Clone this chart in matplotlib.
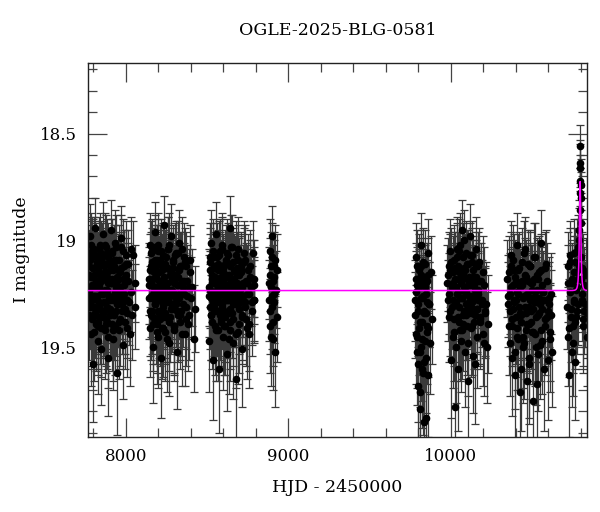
import numpy as np
import matplotlib
matplotlib.use("Agg")
import matplotlib.pyplot as plt
from matplotlib.ticker import MultipleLocator

# ---------------- data ----------------
title = "OGLE-2025-BLG-0581"
xlabel = "HJD - 2450000"
ylabel = "I magnitude"

s1_t = [7773,7777,7781,7784,7788,7791,7795,7798,7802,7806,7809,7813,7817,7820,7824,7828,7831,7835,7839,7843,
        7846,7850,7854,7858,7862,7866,7870,7874,7878,7882,7886,7890,7894,7898,7903,7907,7911,7916,7920,7925,
        7929,7934,7939,7944,7949,7954,7959,7964,7970,7975,7981,7987,7993,7999,8006,8013,8021,8030,8041,8056]
s1_m = [19.12,19.35,18.98,19.27,19.44,19.05,19.21,19.58,19.16,19.31,18.94,19.26,19.39,19.08,19.22,19.47,19.13,19.29,19.02,19.36,
        19.19,19.51,19.10,19.25,18.97,19.33,19.42,19.15,19.24,19.06,19.38,19.20,19.55,19.11,19.28,18.95,19.34,19.18,19.46,19.09,
        19.26,19.40,19.03,19.30,19.62,19.14,19.23,19.37,18.99,19.27,19.49,19.12,19.32,19.07,19.41,19.19,19.29,19.04,19.35,19.20]
s1_e = [0.17,0.21,0.15,0.19,0.24,0.16,0.18,0.27,0.17,0.20,0.14,0.19,0.22,0.16,0.18,0.25,0.17,0.20,0.15,0.22,
        0.18,0.26,0.16,0.19,0.15,0.21,0.23,0.17,0.19,0.16,0.22,0.18,0.27,0.16,0.20,0.14,0.21,0.18,0.24,0.16,
        0.19,0.23,0.15,0.20,0.29,0.17,0.19,0.22,0.15,0.19,0.25,0.17,0.21,0.16,0.23,0.18,0.20,0.15,0.21,0.18]
s1b_t = [7775,7779,7782,7786,7789,7793,7797,7800,7804,7807,7811,7815,7818,7822,7826,7829,7833,7837,7841,7844,
         7848,7852,7856,7860,7864,7868,7872,7876,7880,7884,7888,7892,7896,7900,7905,7909,7913,7918,7922,7927,
         7931,7936,7941,7946,7951,7956,7961,7967,7972,7978,7984,7990,7996,8002,8009,8017,8025,8035,8048,8060]
s1b_m = [19.24,19.09,19.31,19.17,19.02,19.28,19.36,19.13,19.21,19.43,19.07,19.33,19.19,19.26,19.11,19.38,19.22,19.04,19.30,19.16,
         19.41,19.25,19.08,19.34,19.18,19.12,19.29,19.37,19.03,19.23,19.15,19.45,19.27,19.10,19.32,19.20,19.06,19.39,19.14,19.26,
         19.35,19.01,19.22,19.17,19.30,19.09,19.42,19.25,19.13,19.33,19.05,19.21,19.38,19.16,19.28,19.11,19.44,19.24,19.07,19.31]
s1b_e = [0.19,0.16,0.20,0.17,0.15,0.19,0.21,0.17,0.18,0.23,0.16,0.20,0.18,0.19,0.16,0.22,0.18,0.15,0.20,0.17,
         0.23,0.19,0.16,0.21,0.17,0.16,0.19,0.22,0.15,0.18,0.17,0.24,0.19,0.16,0.20,0.18,0.16,0.22,0.17,0.19,
         0.21,0.15,0.18,0.17,0.20,0.16,0.23,0.19,0.17,0.20,0.15,0.18,0.22,0.17,0.19,0.16,0.24,0.19,0.16,0.20]
s1c_t = [7774,7780,7785,7790,7794,7799,7803,7808,7812,7816,7821,7825,7830,7834,7838,7842,7847,7851,7855,7859,
         7863,7867,7871,7875,7879,7883,7887,7891,7895,7901,7906,7910,7915,7919,7924,7928,7933,7938,7943,7948,
         7953,7958,7963,7968,7974,7980,7986,7992,8000,8010]
s1c_m = [19.16,19.30,19.07,19.22,19.37,19.13,19.26,19.04,19.34,19.19,19.28,19.10,19.40,19.21,19.15,19.32,19.06,19.25,19.18,19.36,
         19.11,19.29,19.23,19.02,19.39,19.17,19.31,19.08,19.26,19.14,19.35,19.20,19.05,19.28,19.42,19.12,19.24,19.33,19.09,19.19,
         19.27,19.38,19.15,19.22,19.03,19.30,19.18,19.25,19.11,19.34]
s1c_e = [0.17,0.20,0.16,0.18,0.22,0.16,0.19,0.15,0.21,0.18,0.19,0.16,0.23,0.18,0.17,0.20,0.15,0.19,0.17,0.22,
         0.16,0.19,0.18,0.15,0.23,0.17,0.20,0.16,0.19,0.17,0.21,0.18,0.15,0.19,0.24,0.16,0.18,0.21,0.16,0.18,
         0.19,0.22,0.17,0.18,0.15,0.20,0.17,0.19,0.16,0.21]

s2_t = [8142,8147,8151,8156,8160,8164,8168,8172,8176,8180,8184,8188,8192,8196,8200,8204,8208,8212,8216,8220,
        8224,8228,8233,8237,8241,8245,8250,8254,8258,8263,8267,8272,8276,8281,8286,8290,8295,8300,8305,8310,
        8315,8320,8326,8331,8337,8343,8349,8355,8362,8369,8376,8384,8393,8404,8418]
s2_m = [19.18,19.02,19.41,19.26,19.10,19.33,19.50,19.15,19.22,18.96,19.37,19.12,19.28,19.45,19.05,19.24,19.34,19.09,19.19,19.55,
        19.14,19.30,18.93,19.26,19.43,19.11,19.21,19.36,19.04,19.27,19.48,19.16,19.23,18.98,19.32,19.13,19.40,19.20,19.07,19.29,
        19.52,19.17,19.25,19.01,19.35,19.12,19.44,19.22,19.08,19.31,19.19,19.39,19.15,19.27,19.46]
s2_e = [0.17,0.15,0.23,0.19,0.16,0.20,0.26,0.17,0.18,0.14,0.21,0.16,0.19,0.24,0.15,0.18,0.21,0.16,0.17,0.28,
        0.17,0.20,0.14,0.19,0.23,0.16,0.18,0.21,0.15,0.19,0.25,0.17,0.18,0.15,0.20,0.16,0.22,0.18,0.15,0.19,
        0.27,0.17,0.19,0.15,0.21,0.16,0.24,0.18,0.16,0.20,0.17,0.22,0.17,0.19,0.25]
s2b_t = [8144,8149,8153,8158,8162,8166,8170,8174,8178,8182,8186,8190,8194,8198,8202,8206,8210,8214,8218,8222,
         8226,8230,8235,8239,8243,8247,8252,8256,8260,8265,8269,8274,8278,8283,8288,8292,8297,8302,8307,8312,
         8317,8323,8328,8334,8340,8346,8352,8358,8365,8372,8380,8388,8398,8410,8425]
s2b_m = [19.27,19.14,19.06,19.35,19.21,19.12,19.39,19.24,19.03,19.30,19.17,19.43,19.09,19.26,19.33,19.15,19.22,19.37,19.05,19.28,
         19.19,19.41,19.11,19.25,19.34,19.08,19.20,19.46,19.13,19.29,19.02,19.36,19.23,19.16,19.31,19.10,19.40,19.18,19.27,19.06,
         19.33,19.21,19.14,19.38,19.25,19.04,19.30,19.19,19.44,19.12,19.26,19.35,19.09,19.22,19.32]
s2b_e = [0.19,0.17,0.15,0.21,0.18,0.16,0.22,0.18,0.15,0.20,0.17,0.24,0.16,0.19,0.20,0.17,0.18,0.22,0.15,0.19,
         0.18,0.23,0.16,0.19,0.21,0.16,0.18,0.25,0.17,0.19,0.15,0.21,0.18,0.17,0.20,0.16,0.23,0.17,0.19,0.15,
         0.20,0.18,0.17,0.22,0.19,0.15,0.20,0.18,0.24,0.16,0.19,0.21,0.16,0.18,0.20]
s2c_t = [8145,8150,8155,8159,8163,8167,8171,8175,8179,8183,8187,8191,8195,8199,8203,8207,8211,8215,8219,8223,
         8227,8231,8236,8240,8244,8249,8253,8257,8262,8266,8271,8275,8280,8285,8289,8294,8299,8304,8309,8314,
         8319,8325,8330,8336,8342,8348,8356,8364,8374,8390]
s2c_m = [19.21,19.33,19.12,19.27,19.05,19.36,19.18,19.24,19.09,19.30,19.15,19.39,19.22,19.02,19.28,19.19,19.34,19.11,19.25,19.41,
         19.07,19.31,19.17,19.23,19.36,19.13,19.29,19.20,19.04,19.38,19.26,19.14,19.32,19.18,19.09,19.24,19.42,19.16,19.30,19.21,
         19.06,19.35,19.27,19.12,19.33,19.19,19.25,19.10,19.37,19.22]
s2c_e = [0.18,0.21,0.16,0.19,0.15,0.22,0.17,0.18,0.16,0.20,0.17,0.23,0.18,0.15,0.19,0.18,0.21,0.16,0.19,0.24,
         0.15,0.20,0.17,0.18,0.22,0.16,0.19,0.18,0.15,0.23,0.19,0.17,0.21,0.18,0.16,0.18,0.24,0.17,0.20,0.18,
         0.15,0.22,0.19,0.16,0.21,0.18,0.19,0.16,0.22,0.18]

s3_t = [8512,8516,8520,8524,8528,8532,8536,8540,8544,8548,8552,8556,8560,8564,8568,8572,8576,8580,8584,8588,
        8592,8596,8601,8605,8609,8613,8618,8622,8626,8631,8635,8640,8644,8649,8654,8658,8663,8668,8673,8678,
        8683,8689,8694,8700,8706,8712,8718,8725,8732,8740,8748,8757,8767,8778,8790]
s3_m = [19.47,19.08,19.23,19.35,19.01,19.18,19.29,19.56,19.12,19.26,19.40,18.97,19.21,19.33,19.14,19.60,19.07,19.25,19.38,19.17,
        19.02,19.31,19.45,19.20,19.11,19.36,19.24,19.53,19.06,19.28,19.16,19.42,18.94,19.22,19.34,19.10,19.48,19.19,19.27,19.65,
        19.13,19.30,19.04,19.39,19.23,19.15,19.51,19.26,19.09,19.37,19.20,19.44,19.12,19.29,19.18]
s3_e = [0.24,0.16,0.18,0.21,0.15,0.17,0.20,0.28,0.16,0.19,0.23,0.15,0.18,0.21,0.17,0.30,0.16,0.19,0.22,0.17,
        0.15,0.20,0.25,0.18,0.16,0.21,0.19,0.27,0.16,0.20,0.17,0.24,0.15,0.18,0.21,0.16,0.26,0.18,0.19,0.31,
        0.17,0.20,0.15,0.23,0.18,0.17,0.27,0.19,0.16,0.22,0.18,0.25,0.17,0.20,0.18]
s3b_t = [8514,8518,8522,8526,8530,8534,8538,8542,8546,8550,8554,8558,8562,8566,8570,8574,8578,8582,8586,8590,
         8594,8598,8603,8607,8611,8615,8620,8624,8628,8633,8637,8642,8646,8651,8656,8660,8665,8670,8675,8680,
         8686,8691,8697,8703,8709,8715,8721,8728,8736,8744,8752,8762,8772,8784,8793]
s3b_m = [19.22,19.31,19.10,19.27,19.16,19.38,19.05,19.24,19.33,19.13,19.20,19.29,19.08,19.42,19.18,19.26,19.12,19.35,19.23,19.04,
         19.30,19.15,19.40,19.21,19.28,19.09,19.34,19.17,19.25,19.46,19.11,19.32,19.19,19.03,19.27,19.37,19.14,19.22,19.30,19.07,
         19.24,19.43,19.16,19.29,19.12,19.35,19.20,19.06,19.31,19.25,19.14,19.39,19.22,19.18,19.28]
s3b_e = [0.18,0.20,0.16,0.19,0.17,0.22,0.15,0.18,0.21,0.16,0.18,0.20,0.16,0.24,0.17,0.19,0.16,0.21,0.18,0.15,
         0.20,0.17,0.23,0.18,0.19,0.16,0.21,0.17,0.19,0.26,0.16,0.20,0.18,0.15,0.19,0.22,0.17,0.18,0.20,0.16,
         0.19,0.24,0.17,0.20,0.16,0.21,0.18,0.15,0.20,0.19,0.17,0.22,0.18,0.18,0.20]
s3c_t = [8513,8519,8525,8531,8537,8543,8549,8555,8561,8567,8573,8579,8585,8591,8597,8602,8606,8610,8614,8619,
         8623,8627,8632,8636,8641,8645,8650,8655,8659,8664,8669,8674,8679,8684,8690,8695,8701,8707,8713,8719,
         8726,8733,8741,8749,8758,8768,8775,8782,8787,8791]
s3c_m = [19.26,19.14,19.35,19.20,19.08,19.31,19.17,19.42,19.23,19.11,19.29,19.05,19.37,19.19,19.25,19.13,19.33,19.22,19.40,19.16,
         19.28,19.07,19.34,19.21,19.12,19.38,19.24,19.03,19.30,19.18,19.27,19.15,19.44,19.20,19.09,19.32,19.26,19.14,19.36,19.22,
         19.10,19.29,19.19,19.41,19.25,19.17,19.33,19.06,19.28,19.21]
s3c_e = [0.19,0.17,0.21,0.18,0.16,0.20,0.17,0.24,0.18,0.16,0.19,0.15,0.22,0.18,0.19,0.16,0.21,0.18,0.23,0.17,
         0.19,0.15,0.21,0.18,0.16,0.22,0.19,0.15,0.20,0.17,0.19,0.17,0.25,0.18,0.16,0.21,0.19,0.17,0.22,0.18,
         0.16,0.20,0.18,0.24,0.19,0.17,0.21,0.15,0.19,0.18]

s4_t = [8882,8886,8889,8893,8896,8900,8903,8907,8910,8914,8918,8922,8926,8930,8934]
s4_m = [19.20,19.05,19.33,19.12,19.45,19.26,18.98,19.38,19.17,19.29,19.52,19.09,19.23,19.36,19.14]
s4_e = [0.17,0.15,0.20,0.16,0.23,0.18,0.14,0.21,0.17,0.19,0.26,0.16,0.18,0.21,0.17]
s4b_t = [8884,8888,8891,8895,8898,8902,8905,8909,8912,8916]
s4b_m = [19.28,19.16,19.40,19.22,19.08,19.31,19.19,19.46,19.25,19.12]
s4b_e = [0.19,0.17,0.22,0.18,0.16,0.20,0.17,0.24,0.19,0.16]

s5_t = [9783,9787,9791,9795,9799,9803,9807,9811,9815,9819,9823,9827,9831,9835,9839,9843,9847,9851,9855,9859,
        9864,9869,9874,9879,9884]
s5_m = [19.35,19.08,19.52,19.21,19.68,19.14,19.41,19.79,19.27,19.02,19.46,19.60,19.18,19.33,19.85,19.11,19.55,19.25,19.40,19.06,
        19.63,19.30,19.48,19.15,19.37]
s5_e = [0.20,0.16,0.25,0.18,0.30,0.17,0.22,0.33,0.19,0.15,0.24,0.28,0.17,0.20,0.35,0.16,0.26,0.19,0.22,0.16,
        0.29,0.20,0.24,0.17,0.21]
s5b_t = [9785,9789,9793,9797,9801,9805,9809,9813,9817,9821,9825,9829,9833,9837,9841,9845,9849,9853,9857,9862]
s5b_m = [19.24,19.44,19.12,19.58,19.30,19.20,19.71,19.38,19.16,19.50,19.27,19.10,19.62,19.34,19.22,19.47,19.83,19.19,19.29,19.41]
s5b_e = [0.19,0.23,0.17,0.27,0.20,0.18,0.31,0.22,0.17,0.25,0.19,0.16,0.29,0.21,0.18,0.24,0.34,0.18,0.20,0.23]
s5c_t = [9784,9790,9794,9800,9806,9812,9818,9824,9830,9836,9842,9848,9854,9860,9866]
s5c_m = [19.28,19.18,19.45,19.33,19.22,19.52,19.12,19.38,19.26,19.57,19.20,19.34,19.43,19.16,19.30]
s5c_e = [0.19,0.17,0.24,0.21,0.18,0.26,0.17,0.22,0.19,0.27,0.18,0.21,0.24,0.17,0.20]

s6_t = [9980,9988,9995,10003,10010,10016,10022,10028,10033,10038,10043,10048,10053,10058,10063,10068,10073,10078,10083,10088,
        10093,10098,10103,10108,10113,10118,10123,10128,10133,10138,10143,10148,10154,10160,10166,10172,10179,10186,10194,10203,
        10213,10224]
s6_m = [19.20,19.12,19.05,19.56,19.31,19.15,19.43,19.78,19.22,19.08,19.36,19.60,19.18,19.02,19.47,19.27,18.95,19.39,19.13,19.52,
        19.24,19.06,19.33,19.66,19.17,18.98,19.41,19.26,19.10,19.54,19.21,19.35,19.04,19.45,19.28,19.12,19.38,19.19,19.30,19.48,
        19.34,19.50]
s6_e = [0.18,0.16,0.15,0.27,0.20,0.17,0.23,0.34,0.18,0.16,0.21,0.29,0.17,0.15,0.24,0.19,0.14,0.22,0.17,0.26,
        0.18,0.15,0.20,0.31,0.17,0.15,0.23,0.19,0.16,0.27,0.18,0.21,0.15,0.24,0.19,0.16,0.22,0.18,0.20,0.25,
        0.21,0.26]
s6b_t = [9984,9992,9999,10006,10013,10019,10025,10030,10035,10040,10045,10050,10055,10060,10065,10070,10075,10080,10085,10090,
         10095,10100,10105,10110,10115,10120,10125,10130,10135,10140,10145,10151,10157,10163,10169,10175,10182,10190,10198,10207,
         10218,10228]
s6b_m = [19.28,19.36,19.14,19.22,19.45,19.09,19.30,19.18,19.50,19.25,19.12,19.38,19.05,19.27,19.20,19.42,19.16,19.33,19.00,19.24,
         19.35,19.11,19.48,19.21,19.29,19.07,19.31,19.19,19.40,19.14,19.26,19.58,19.17,19.32,19.23,19.10,19.37,19.28,19.44,19.21,
         19.30,19.39]
s6b_e = [0.19,0.21,0.17,0.18,0.24,0.16,0.20,0.17,0.26,0.19,0.16,0.22,0.15,0.19,0.18,0.23,0.17,0.20,0.14,0.18,
         0.21,0.16,0.25,0.18,0.19,0.15,0.20,0.17,0.23,0.16,0.19,0.28,0.17,0.21,0.18,0.16,0.22,0.19,0.24,0.18,
         0.20,0.23]
s6c_t = [9982,9990,9997,10005,10012,10018,10024,10029,10034,10039,10044,10049,10054,10059,10064,10069,10074,10079,10084,10089,
         10094,10099,10104,10109,10114,10119,10124,10129,10134,10139,10146,10152,10158,10164,10170,10177,10184,10192,10201,10211]
s6c_m = [19.16,19.25,19.33,19.10,19.28,19.20,19.37,19.13,19.29,19.04,19.24,19.31,19.15,19.42,19.19,19.27,19.08,19.35,19.22,19.14,
         19.30,19.18,19.40,19.11,19.26,19.21,19.34,19.07,19.29,19.17,19.38,19.23,19.12,19.32,19.25,19.19,19.36,19.28,19.15,19.33]
s6c_e = [0.17,0.19,0.21,0.16,0.19,0.18,0.22,0.17,0.20,0.15,0.18,0.20,0.17,0.24,0.18,0.19,0.16,0.21,0.18,0.17,
         0.20,0.18,0.23,0.16,0.19,0.18,0.21,0.16,0.19,0.17,0.22,0.18,0.16,0.20,0.19,0.18,0.22,0.19,0.17,0.21]

s7_t = [10350,10358,10365,10372,10378,10384,10390,10396,10402,10408,10414,10420,10426,10432,10438,10444,10450,10456,10462,10468,
        10474,10480,10486,10492,10498,10504,10510,10516,10522,10528,10534,10540,10547,10554,10561,10568,10576,10584,10593,10603,
        10614,10624]
s7_m = [19.18,19.40,19.25,19.07,19.55,19.32,19.14,19.63,19.28,19.02,19.46,19.21,19.71,19.35,19.10,19.50,19.26,19.04,19.42,19.66,
        19.19,19.31,19.58,19.12,19.38,19.23,19.75,19.08,19.44,19.29,19.16,19.53,19.34,19.01,19.47,19.24,19.60,19.13,19.36,19.27,
        19.43,19.52]
s7_e = [0.18,0.23,0.19,0.16,0.27,0.20,0.17,0.30,0.19,0.15,0.24,0.18,0.33,0.21,0.16,0.26,0.19,0.15,0.23,0.31,
        0.18,0.20,0.28,0.17,0.22,0.18,0.35,0.16,0.24,0.19,0.17,0.27,0.21,0.15,0.25,0.18,0.29,0.17,0.22,0.19,
        0.23,0.26]
s7b_t = [10354,10361,10368,10375,10381,10387,10393,10399,10405,10411,10417,10423,10429,10435,10441,10447,10453,10459,10465,10471,
         10477,10483,10489,10495,10501,10507,10513,10519,10525,10531,10537,10543,10550,10557,10564,10572,10580,10588,10598,10608,
         10617,10621]
s7b_m = [19.30,19.15,19.48,19.22,19.37,19.09,19.28,19.52,19.19,19.41,19.25,19.13,19.34,19.60,19.21,19.45,19.06,19.31,19.17,19.39,
         19.26,19.55,19.12,19.33,19.20,19.43,19.29,19.08,19.36,19.67,19.18,19.27,19.49,19.14,19.32,19.24,19.40,19.11,19.56,19.30,
         19.35,19.25]
s7b_e = [0.20,0.17,0.25,0.18,0.22,0.16,0.19,0.27,0.18,0.23,0.19,0.17,0.21,0.29,0.18,0.24,0.15,0.20,0.17,0.22,
         0.19,0.28,0.16,0.21,0.18,0.23,0.19,0.16,0.21,0.32,0.18,0.19,0.25,0.17,0.21,0.19,0.23,0.16,0.28,0.20,
         0.21,0.19]
s7c_t = [10352,10363,10370,10376,10382,10388,10394,10400,10406,10412,10418,10424,10430,10436,10442,10448,10454,10460,10466,10472,
         10478,10484,10490,10496,10502,10508,10514,10520,10526,10532,10538,10545,10552,10559,10566,10574,10582,10591,10601,10612]
s7c_m = [19.26,19.33,19.12,19.40,19.21,19.29,19.17,19.36,19.24,19.45,19.14,19.31,19.22,19.38,19.19,19.27,19.48,19.16,19.34,19.25,
         19.11,19.39,19.28,19.20,19.43,19.32,19.18,19.26,19.50,19.23,19.35,19.15,19.30,19.42,19.21,19.28,19.37,19.19,19.33,19.46]
s7c_e = [0.19,0.21,0.16,0.23,0.18,0.20,0.17,0.22,0.19,0.25,0.17,0.20,0.18,0.22,0.18,0.19,0.26,0.17,0.21,0.19,
         0.16,0.23,0.19,0.18,0.24,0.21,0.17,0.19,0.27,0.18,0.22,0.17,0.20,0.24,0.18,0.19,0.22,0.18,0.21,0.25]

s8_t = [10720,10726,10731,10736,10741,10746,10750,10755,10759,10763,10767,10771,10775,10779,10782,10785,10788,10790,10792,10794,
        10795,10796,10797,10798,10799,10800,10801,10802,10804,10806,10809,10813,10818,10824,10831,10837]
s8_m = [19.20,19.45,19.63,19.10,19.32,19.52,19.18,19.40,19.06,19.28,19.57,19.15,19.36,19.22,19.03,19.30,19.12,19.00,18.95,18.86,
        18.78,18.72,18.56,18.64,18.66,18.74,18.80,18.92,19.08,19.18,19.25,19.40,19.14,19.33,19.22,19.45]
s8_e = [0.18,0.23,0.29,0.16,0.20,0.26,0.17,0.22,0.16,0.19,0.27,0.17,0.21,0.18,0.15,0.19,0.16,0.15,0.14,0.13,
        0.12,0.12,0.10,0.11,0.11,0.12,0.12,0.14,0.16,0.17,0.18,0.22,0.17,0.20,0.18,0.23]
s8b_t = [10718,10723,10728,10733,10738,10743,10748,10752,10757,10761,10765,10769,10773,10777,10780,10783,
         10808,10811,10815,10821,10827,10834,10839]
s8b_m = [19.31,19.12,19.41,19.24,19.07,19.36,19.20,19.48,19.15,19.29,19.10,19.38,19.23,19.05,19.33,19.18,
         19.28,19.13,19.37,19.21,19.30,19.16,19.34]
s8b_e = [0.20,0.16,0.23,0.18,0.16,0.21,0.18,0.25,0.17,0.19,0.16,0.22,0.18,0.15,0.20,0.17,
         0.19,0.17,0.22,0.18,0.20,0.17,0.21]

# point-lens model parameters (magenta curve)
model_t0 = 10797.5
model_tE = 6.0
model_u0 = 0.75
model_I0 = 19.235
model_fs = 1.0

x_range = (7768, 10840)
y_range = (19.92, 18.17)   # magnitudes: inverted axis

# ---------------- plot ----------------
plt.rcParams['font.family'] = ['DejaVu Serif']

fig = plt.figure(figsize=(6.0, 5.12), dpi=100)
ax = fig.add_axes([88/600, 75/512, 499/600, 374/512])

seasons = [(s1_t, s1_m, s1_e), (s1b_t, s1b_m, s1b_e), (s1c_t, s1c_m, s1c_e),
           (s2_t, s2_m, s2_e), (s2b_t, s2b_m, s2b_e), (s2c_t, s2c_m, s2c_e),
           (s3_t, s3_m, s3_e), (s3b_t, s3b_m, s3b_e), (s3c_t, s3c_m, s3c_e),
           (s4_t, s4_m, s4_e), (s4b_t, s4b_m, s4b_e),
           (s5_t, s5_m, s5_e), (s5b_t, s5b_m, s5b_e), (s5c_t, s5c_m, s5c_e),
           (s6_t, s6_m, s6_e), (s6b_t, s6b_m, s6b_e), (s6c_t, s6c_m, s6c_e),
           (s7_t, s7_m, s7_e), (s7b_t, s7b_m, s7b_e), (s7c_t, s7c_m, s7c_e),
           (s8_t, s8_m, s8_e), (s8b_t, s8b_m, s8b_e)]
for t, m, e in seasons:
    ax.errorbar(t, m, yerr=e, fmt='o', color='black', ms=4.5, mec='black',
                ecolor='#3a3a3a', elinewidth=0.9, capsize=3, capthick=0.9, zorder=2)

tt = np.linspace(x_range[0], x_range[1], 20000)
u = np.sqrt(model_u0**2 + ((tt - model_t0) / model_tE)**2)
A = (u**2 + 2) / (u * np.sqrt(u**2 + 4))
mag = model_I0 - 2.5 * np.log10(model_fs * A + (1 - model_fs))
ax.plot(tt, mag, color='#ff00ff', lw=1.1, zorder=5)

ax.set_xlim(*x_range)
ax.set_ylim(*y_range)
ax.xaxis.set_major_locator(MultipleLocator(1000))
ax.xaxis.set_minor_locator(MultipleLocator(200))
ax.yaxis.set_minor_locator(MultipleLocator(0.1))
ax.set_yticks([18.5, 19.0, 19.5])
ax.set_yticklabels(['18.5', '19', '19.5'])
ax.tick_params(which='both', direction='in', top=True, right=True, labelsize=12, color='#444444')
ax.tick_params(which='major', length=13.5, width=0.9, pad=8)
ax.tick_params(which='minor', length=6.5, width=0.9)
for sp in ax.spines.values():
    sp.set_linewidth(1.0)
    sp.set_color('#222222')

ax.set_xlabel(xlabel, fontsize=12.5, labelpad=10)
ax.set_ylabel(ylabel, fontsize=12.5, labelpad=7)
ax.set_title(title, fontsize=12.5, pad=20)

fig.savefig('out.png', dpi=100)
